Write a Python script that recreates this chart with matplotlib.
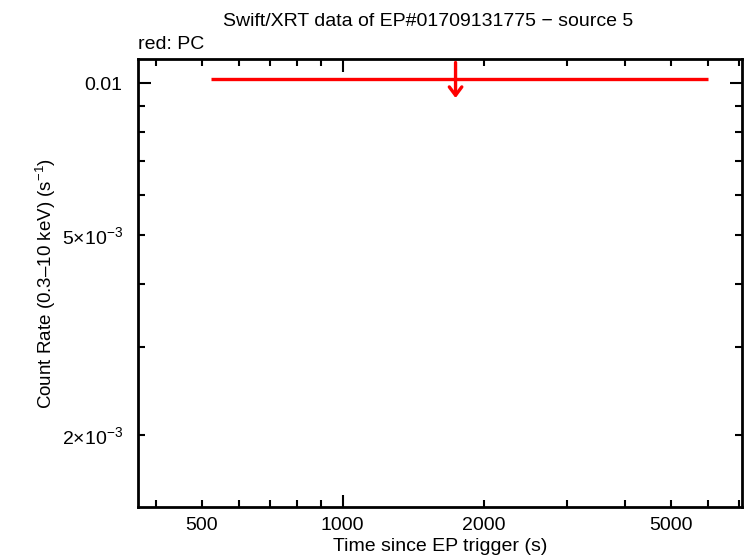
import matplotlib
matplotlib.use("Agg")
import matplotlib.pyplot as plt
from matplotlib.ticker import FixedLocator, FuncFormatter

plt.rcParams['font.family'] = ['Liberation Sans', 'DejaVu Sans']
plt.rcParams['mathtext.fontset'] = 'custom'
plt.rcParams['mathtext.rm'] = 'Liberation Sans'
plt.rcParams['mathtext.it'] = 'Liberation Sans:italic'
plt.rcParams['mathtext.bf'] = 'Liberation Sans:bold'

# PC upper limit (red)
t_mid = [1740]
t_lo = [523]
t_hi = [6010]
rate_ul = [0.01018]
arrow_top = [0.0110]
arrow_bot = [0.00935]

# decade ticks are long, the rest short
xmajor = [1000]
xminor = [400, 500, 600, 700, 800, 900, 2000, 3000, 4000, 5000, 6000, 7000]
xlabels = {500: '500', 1000: '1000', 2000: '2000', 5000: '5000'}
ymajor = [0.01]
yminor = [2e-3, 3e-3, 4e-3, 5e-3, 6e-3, 7e-3, 8e-3, 9e-3]
ylabels = {2e-3: r'$\mathregular{2{\times}10^{-3}}$', 5e-3: r'$\mathregular{5{\times}10^{-3}}$', 0.01: '0.01'}


def lab(d):
    def f(v, pos):
        for k in d:
            if abs(v - k) / k < 1e-6:
                return d[k]
        return ''
    return FuncFormatter(f)


fig = plt.figure(figsize=(7.46, 5.58), dpi=100)
ax = fig.add_axes([0.185, 0.0914, 0.8096, 0.8026])
ax.set_xscale('log')
ax.set_yscale('log')
ax.set_xlim(366, 7100)
ax.set_ylim(1.44e-3, 0.01117)

for i in range(len(t_mid)):
    ax.plot([t_lo[i], t_hi[i]], [rate_ul[i], rate_ul[i]], color='red', lw=2.4, solid_capstyle='butt')
    ax.annotate('', xy=(t_mid[i], arrow_bot[i]), xytext=(t_mid[i], arrow_top[i]),
                arrowprops=dict(arrowstyle='->,head_length=0.6,head_width=0.45', color='red', lw=2.4,
                                shrinkA=0, shrinkB=0))

ax.xaxis.set_major_locator(FixedLocator(xmajor))
ax.xaxis.set_minor_locator(FixedLocator(xminor))
ax.xaxis.set_major_formatter(lab(xlabels))
ax.xaxis.set_minor_formatter(lab(xlabels))
ax.yaxis.set_major_locator(FixedLocator(ymajor))
ax.yaxis.set_minor_locator(FixedLocator(yminor))
ax.yaxis.set_major_formatter(lab(ylabels))
ax.yaxis.set_minor_formatter(lab(ylabels))

ax.tick_params(which='both', direction='in', top=True, right=True, labelsize=14, width=1.5)
ax.tick_params(which='major', length=9)
ax.tick_params(which='minor', length=5)
ax.tick_params(axis='x', which='both', pad=7)
ax.tick_params(axis='y', which='both', pad=11)
for s in ax.spines.values():
    s.set_linewidth(2)

ax.set_xlabel('Time since EP trigger (s)', fontsize=14, va='center')
ax.xaxis.set_label_coords(0.5, -0.089)
ax.set_ylabel('Count Rate (0.3\u201310 keV) (s$^{-1}$)', fontsize=13.5, va='center')
ax.yaxis.set_label_coords(-0.153, 0.5)
fig.text(0.574, 0.976, 'Swift/XRT data of EP#01709131775 \u2212 source 5', ha='center', va='top', fontsize=14)
fig.text(0.185, 0.905, 'red: PC', ha='left', va='bottom', fontsize=14)

fig.savefig('out.png', dpi=100)
